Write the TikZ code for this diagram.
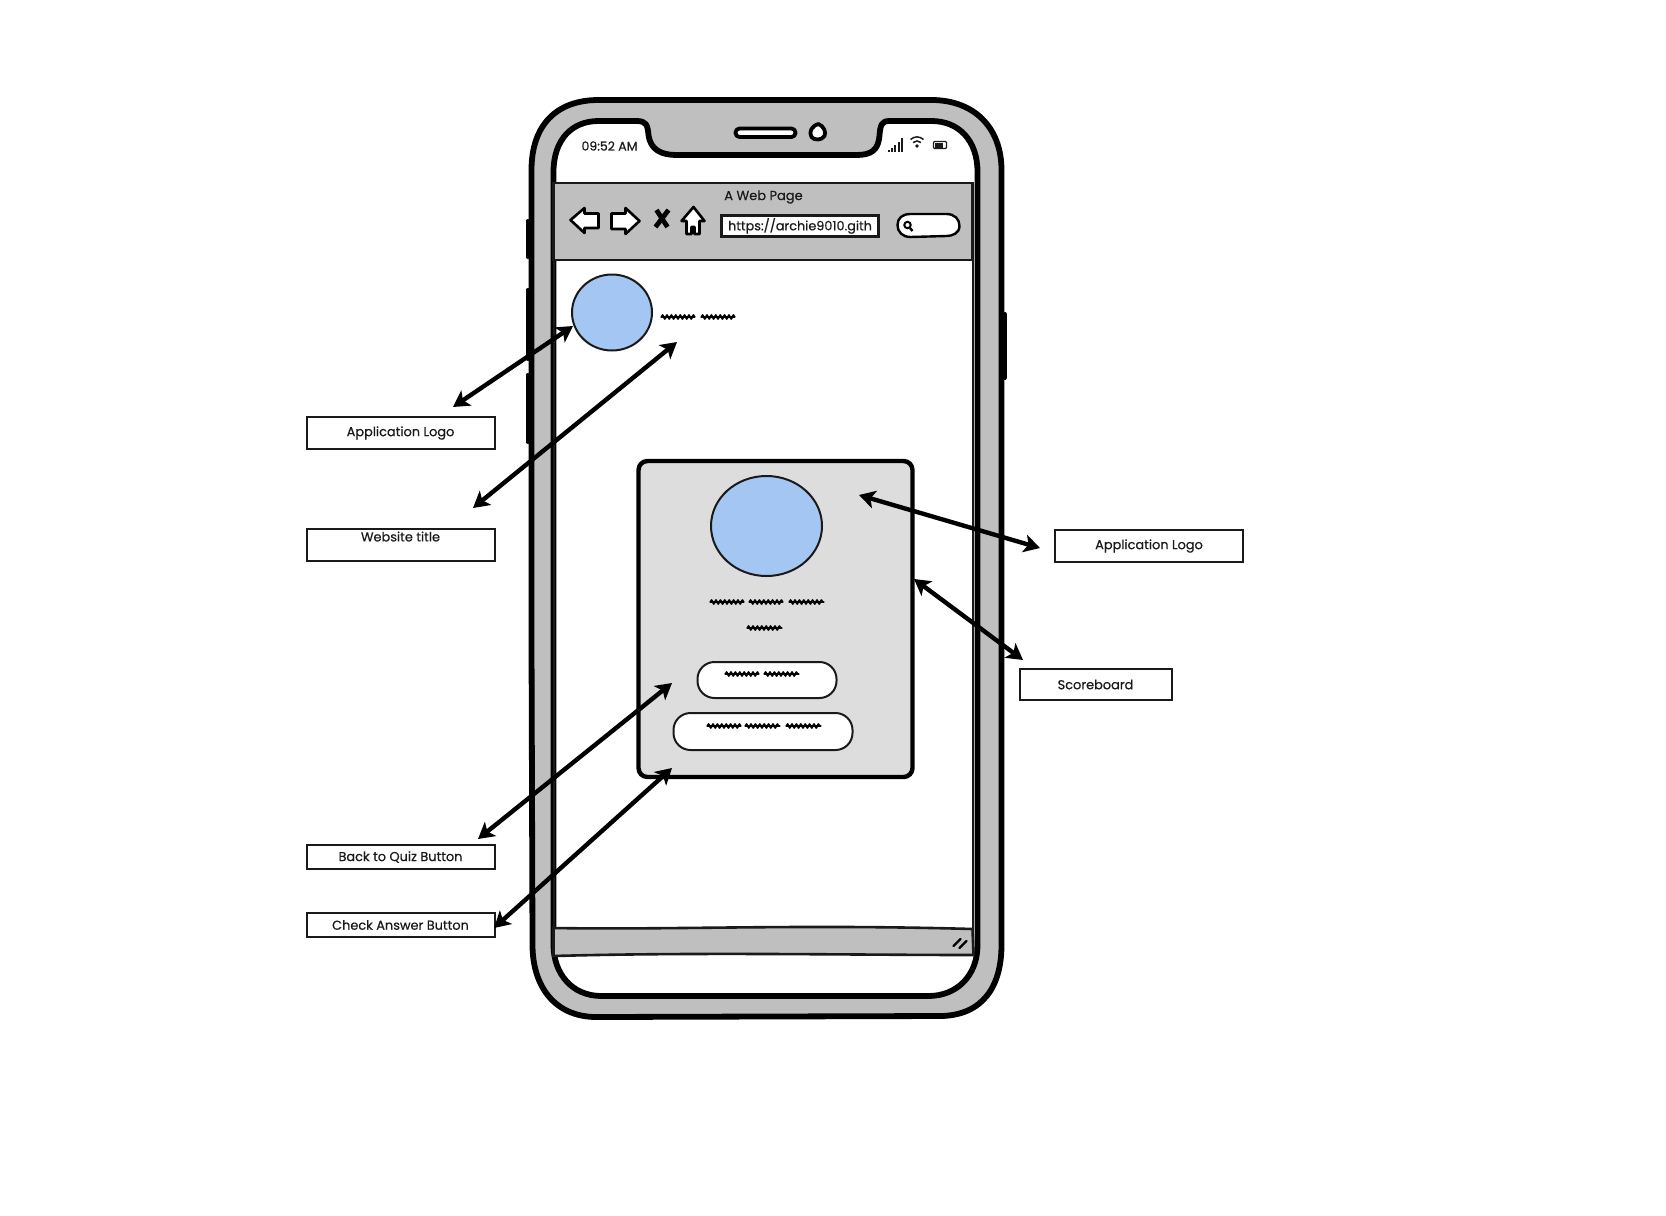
\documentclass[tikz,border=0pt]{standalone}
\usepackage{fontspec}
\setmainfont{Poppins}[RawFeature={embolden=0.5}]
\usetikzlibrary{arrows.meta,decorations.pathmorphing,shapes.geometric}
\definecolor{framegray}{HTML}{BFBFBF}
\definecolor{cardgray}{HTML}{DDDDDD}
\definecolor{logoblue}{HTML}{A3C6F3}
\definecolor{inkdark}{HTML}{1A1A1A}
\newcommand{\lbl}{\fontsize{12.9}{15}\selectfont}
\newcommand{\squig}[3]{%
  \draw[squigcore] (#1,#3) -- (#2,#3);
  \draw[squigwave] (#1,#3) -- (#2,#3);}
\tikzset{
  squigcore/.style={black,line width=2.6pt,line cap=round},
  squigwave/.style={black,line width=1.9pt,line join=round,decorate,decoration={zigzag,segment length=4.4pt,amplitude=1.9pt}},
  framestroke/.style={black,line width=5.8pt,line join=round},
  barstyle/.style={draw=inkdark,line width=2.6pt,fill=framegray},
  labelbox/.style={draw=inkdark,line width=2pt,fill=white,inner sep=0pt,text=inkdark,font=\lbl,anchor=north west},
  dbl/.style={black,line width=4.4pt,{Stealth[length=16pt,width=18pt,inset=4pt]}-{Stealth[length=16pt,width=18pt,inset=4pt]}},
  iconstroke/.style={black,line width=2.6pt,line join=round,fill=white},
  pill/.style={draw=inkdark,line width=2pt,fill=white},
  logo/.style={ellipse,draw=inkdark,line width=2pt,fill=logoblue,inner sep=0pt},
  sidebtn/.style={black,line width=4pt,line cap=round},
  txt/.style={text=inkdark,inner sep=0pt},
}
\begin{document}
\begin{tikzpicture}[x=1pt,y=-1pt]
\useasboundingbox[fill=white] (0,0) rectangle (1666,1216);
\begin{scope}[xshift=-3.5pt]
% side buttons
\draw[sidebtn] (531,221) -- (531,257);
\draw[sidebtn] (531,290) -- (531,359);
\draw[sidebtn] (531,375) -- (531,442);
\draw[sidebtn] (1008,314) -- (1008,378);
% phone frame
\draw[framestroke,fill=framegray] (535,170) .. controls (535,125) and (560,100) .. (602,100) -- (935,100) .. controls (978,100) and (1005,128) .. (1005,170) -- (1005,945) .. controls (1005,988) and (985,1015) .. (945,1016) -- (600,1017) .. controls (558,1017) and (536,986) .. (536,945) -- (535,640) -- cycle;
% screen
\draw[framestroke,fill=white] (557,185) -- (557,172) .. controls (557,140) and (575,121) .. (602,121) -- (640,121) .. controls (650,121) and (651,125) .. (652,135) .. controls (654,150) and (665,155) .. (680,155) -- (860,155) .. controls (875,155) and (882,150) .. (883,135) .. controls (884,125) and (885,121) .. (893,121) -- (935,121) .. controls (962,121) and (981,140) .. (981,172) -- (981,945) .. controls (981,976) and (960,996) .. (932,996) -- (605,996) .. controls (575,996) and (557,973) .. (557,945) -- cycle;
% speaker + camera
\draw[framestroke,line width=3.8pt,fill=white,rounded corners=4pt] (739,128.5) rectangle (799,137);
\draw[framestroke,line width=3.8pt,fill=white] (822,124) .. controls (827,126) and (830,132) .. (828,136) .. controls (825,141) and (817,140) .. (815,137) .. controls (812,132) and (815,126) .. (822,124) -- cycle;
% status bar
\node[txt,font=\fontsize{12.5}{15}\selectfont] (clock) at (613,146) {09:52 AM};
\foreach \i/\h in {0/2,1/4,2/7,3/10,4/14}{\fill[inkdark] (891+3.4*\i,152) rectangle ++(2,-\h);}
\draw[inkdark,line width=1.5pt] (914,139.5) .. controls (918,136) and (923,136) .. (927,139.5);
\draw[inkdark,line width=1.5pt] (916.5,142.5) .. controls (919,140.5) and (922,140.5) .. (924.5,142.5);
\fill[inkdark] (920.5,146) circle (1.8pt);
\draw[inkdark,line width=1.2pt,rounded corners=1pt] (937,141.5) rectangle (950,148.5);
\fill[inkdark] (938,142.5) rectangle (946,147.5);
% browser window
\draw[draw=inkdark,line width=2pt] (557,260) rectangle (976,930);
\draw[barstyle] (557,183) rectangle (976,260);
\node[txt,font=\fontsize{13}{15}\selectfont] (title) at (767,197) {A Web Page};
\draw[iconstroke] (574,220) -- (588,208) -- (588,213.5) -- (602,213.5) -- (602,228) -- (588,228) -- (588,233) -- cycle;
\draw[iconstroke] (643,221) -- (629,208) -- (629,213.5) -- (615,213.5) -- (615,229) -- (629,229) -- (629,234) -- cycle;
\draw[black,line width=4.8pt] (660,210) -- (671,227) (672,210) -- (659,227);
\draw[iconstroke] (697,207) -- (708,221) -- (703,221) -- (703,234) -- (698,234) -- (698,227) -- (695,227) -- (695,234) -- (690,234) -- (690,221) -- (685,221) -- cycle;
\node[draw=inkdark,line width=2.6pt,fill=white,minimum width=157pt,minimum height=21pt,inner sep=0pt,text=inkdark,font=\fontsize{12.8}{16}\selectfont] (url) at (803.5,226) {https://archie9010.gith};
\draw[iconstroke,line width=2.4pt] (914,214) -- (950,214) .. controls (958,214) and (963,219) .. (963,226) .. controls (963,233) and (956,236) .. (950,236) -- (914,237) .. controls (906,237) and (901,232) .. (901,225) .. controls (901,218) and (906,214) .. (914,214) -- cycle;
\draw[black,line width=2pt] (911,225) circle (3.2pt);
\draw[black,line width=2.4pt] (913.5,228) -- (916,231);
% header logo + title scribble
\node[logo,minimum width=80pt,minimum height=76pt] (toplogo) at (615.5,312.5) {};
\squig{665}{698}{317}
\squig{705}{738}{317}
% bottom bar
\draw[barstyle] (557,928) .. controls (680,930) and (800,924) .. (976,929) -- (977,955) .. controls (850,955) and (700,952) .. (557,956) -- cycle;
\draw[black,line width=2.2pt,line cap=round] (957,946) -- (964,939) (963,948) -- (970,941);
% card
\draw[black,line width=4.4pt,fill=cardgray,rounded corners=9pt] (642,461) rectangle (916,777);
\node[logo,minimum width=111pt,minimum height=100pt] (cardlogo) at (770,526) {};
\squig{714}{747}{602}
\squig{753}{786}{602}
\squig{793}{827}{602}
\squig{751}{785}{628}
\draw[pill,rounded corners=17pt] (701,662) rectangle (840,698);
\squig{729}{762}{674}
\squig{768}{802}{674}
\draw[pill,rounded corners=17pt] (677,713) rectangle (856,750);
\squig{711}{744}{726}
\squig{749}{783}{726}
\squig{790}{824}{726}
\end{scope}
% labels
\node[labelbox,minimum width=188pt,minimum height=32pt] (lblA) at (305.5,416) {Application Logo};
\node[labelbox,minimum width=188pt,minimum height=32pt,text depth=17pt] (lblB) at (305.5,528) {Website title};
\node[labelbox,minimum width=188pt,minimum height=24pt] (lblC) at (305.5,844) {Back to Quiz Button};
\node[labelbox,minimum width=188pt,minimum height=24pt] (lblD) at (305.5,912) {Check Answer Button};
\node[labelbox,minimum width=188pt,minimum height=32pt] (lblE) at (1054,529) {Application Logo};
\node[labelbox,minimum width=152pt,minimum height=31pt] (lblF) at (1018.5,668) {Scoreboard};
% connectors
\coordinate (a1) at (453,407); \coordinate (b1) at (573,326);
\coordinate (a2) at (473,508); \coordinate (b2) at (677,342);
\coordinate (a3) at (478,839); \coordinate (b3) at (672,683);
\coordinate (a4) at (494,928); \coordinate (b4) at (672,768);
\coordinate (a5) at (1040,548); \coordinate (b5) at (859,495);
\coordinate (a6) at (1023,660); \coordinate (b6) at (914,579);
\draw[dbl] (a1) -- (b1);
\draw[dbl] (a2) -- (b2);
\draw[dbl] (a3) -- (b3);
\draw[dbl] (a4) -- (b4);
\draw[dbl] (a5) -- (b5);
\draw[dbl] (a6) -- (b6);
\end{tikzpicture}
\end{document}
